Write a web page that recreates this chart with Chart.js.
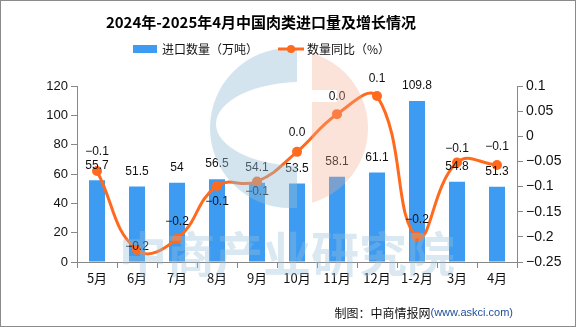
<!DOCTYPE html>
<html>
<head>
<meta charset="utf-8">
<script src="https://cdn.jsdelivr.net/npm/chart.js@4.4.1/dist/chart.umd.min.js"></script>
<style>
  html, body { margin: 0; padding: 0; background: #fff; }
  canvas { display: block; }
</style>
</head>
<body>
<canvas id="meatChart" width="576" height="327"></canvas>
<script>
// 月份
const months = ["5月", "6月", "7月", "8月", "9月", "10月", "11月", "12月", "1-2月", "3月", "4月"];
// 进口数量（万吨）
const importVolume = [55.7, 51.5, 54, 56.5, 54.1, 53.5, 58.1, 61.1, 109.8, 54.8, 51.3];
// 数量同比（%）
const volumeYoY = [-0.069, -0.226, -0.204, -0.099, -0.09, -0.031, 0.044, 0.08, -0.2, -0.052, -0.057];
// 同比标签的上下偏移（像素，负数在点上方）
const yoyLabelShift = [-19, -3, -17, 16, 10, -19, -17, -17, -17, -14, -18];

const BAR_COLOR = "#3D9CF2";
const LINE_COLOR = "#FF6A1E";
const NUM_FONT = "12px 'Liberation Sans', sans-serif";
const CJK = "'Noto Sans CJK SC', sans-serif";

function fmtRate(v) {
  let s = v.toFixed(1);
  if (s === "-0.0") s = "0.0";
  return s.replace("-", "−");
}

// 数值标签
const valueLabels = {
  id: "valueLabels",
  afterDatasetsDraw(chart) {
    const ctx = chart.ctx;
    ctx.save();
    ctx.font = NUM_FONT;
    ctx.fillStyle = "#111";
    ctx.textAlign = "center";
    ctx.textBaseline = "middle";
    chart.getDatasetMeta(1).data.forEach((bar, i) => {
      ctx.fillText(String(importVolume[i]), bar.x, bar.y - 15);
    });
    chart.getDatasetMeta(0).data.forEach((pt, i) => {
      ctx.fillText(fmtRate(volumeYoY[i]), pt.x, pt.y + yoyLabelShift[i]);
    });
    ctx.restore();
  }
};

// 水印、标题、图例、来源
const decorations = {
  id: "decorations",
  afterDraw(chart) {
    const ctx = chart.ctx;
    ctx.save();

    // logo
    const cx = 290, cy = 128, r = 80;
    ctx.save();
    ctx.beginPath();
    ctx.rect(0, 0, 297, 327);
    ctx.clip();
    ctx.beginPath();
    ctx.arc(cx, cy, r, 0, Math.PI * 2);
    ctx.ellipse(302, 124, 86, 42, 0, 0, Math.PI * 2, true);
    ctx.fillStyle = "rgba(150,190,215,0.42)";
    ctx.fill("evenodd");
    ctx.restore();

    ctx.save();
    ctx.beginPath();
    ctx.rect(312, 0, 100, 90);
    ctx.rect(312, 102, 100, 200);
    ctx.rect(337, 90, 80, 12);
    ctx.clip();
    ctx.beginPath();
    ctx.arc(cx, cy, r - 2, 0, Math.PI * 2);
    ctx.fillStyle = "rgba(242,170,140,0.33)";
    ctx.fill();
    ctx.restore();

    ctx.font = "bold 48px " + CJK;
    ctx.fillStyle = "rgba(150,190,215,0.36)";
    ctx.textAlign = "center";
    ctx.textBaseline = "middle";
    ctx.fillText("中商产业研究院", 287, 254);

    // 标题
    ctx.fillStyle = "#000";
    ctx.font = "bold 15px " + CJK;
    ctx.fillText("2024年-2025年4月中国肉类进口量及增长情况", 261, 22);

    // 图例
    ctx.font = "12px " + CJK;
    ctx.textAlign = "left";
    ctx.fillStyle = BAR_COLOR;
    ctx.fillRect(133, 45, 24, 8);
    ctx.fillStyle = "#111";
    ctx.fillText("进口数量（万吨）", 162, 49);

    ctx.strokeStyle = LINE_COLOR;
    ctx.lineWidth = 3;
    ctx.beginPath();
    ctx.moveTo(278, 49);
    ctx.lineTo(304, 49);
    ctx.stroke();
    ctx.fillStyle = LINE_COLOR;
    ctx.beginPath();
    ctx.arc(291, 49, 4, 0, Math.PI * 2);
    ctx.fill();
    ctx.fillStyle = "#111";
    ctx.fillText("数量同比（%）", 307, 49);

    // 来源
    ctx.textAlign = "right";
    ctx.font = "11px 'Liberation Sans', sans-serif";
    ctx.fillStyle = "#1F4E9A";
    const src = "(www.askci.com)";
    ctx.fillText(src, 513, 313);
    const w = ctx.measureText(src).width;
    ctx.font = "12px " + CJK;
    ctx.fillStyle = "#111";
    ctx.fillText("制图：中商情报网", 513 - w, 313);

    // 外框
    ctx.strokeStyle = "#8a8a8a";
    ctx.lineWidth = 1;
    ctx.strokeRect(0.5, 0.5, 575, 326);
    ctx.restore();
  }
};

Chart.defaults.font.family = "'Liberation Sans', 'Noto Sans CJK SC', sans-serif";
Chart.defaults.color = "#111";

new Chart(document.getElementById("meatChart"), {
  type: "bar",
  data: {
    labels: months,
    datasets: [
      {
        type: "line",
        label: "数量同比（%）",
        data: volumeYoY,
        yAxisID: "y1",
        borderColor: LINE_COLOR,
        backgroundColor: LINE_COLOR,
        borderWidth: 3,
        pointRadius: 5,
        pointBorderWidth: 0,
        tension: 0.45,
        order: 0
      },
      {
        type: "bar",
        label: "进口数量（万吨）",
        data: importVolume,
        yAxisID: "y",
        backgroundColor: BAR_COLOR,
        barPercentage: 0.4,
        categoryPercentage: 1,
        order: 1
      }
    ]
  },
  options: {
    responsive: false,
    maintainAspectRatio: false,
    animation: false,
    layout: { padding: { top: 86, left: 0, right: 0, bottom: 0 } },
    plugins: {
      legend: { display: false },
      title: { display: false },
      tooltip: { enabled: false }
    },
    scales: {
      x: {
        grid: { offset: true, drawOnChartArea: false, tickLength: 6, color: "#888" },
        border: { color: "#888" },
        ticks: { font: { size: 13, family: CJK }, color: "#111", padding: 2 },
        afterFit(scale) { scale.height = 65; }
      },
      y: {
        position: "left",
        min: 0,
        max: 120,
        ticks: { stepSize: 20, font: { size: 13 }, color: "#111", padding: 3 },
        grid: { drawOnChartArea: false, tickLength: 6, color: "#888" },
        border: { color: "#888" },
        afterFit(scale) { scale.width = 77; }
      },
      y1: {
        position: "right",
        min: -0.25,
        max: 0.1,
        ticks: {
          stepSize: 0.05,
          font: { size: 14 },
          color: "#111",
          padding: 3,
          callback: (v) => String(Math.round(v * 100) / 100).replace("-", "−")
        },
        grid: { drawOnChartArea: false, tickLength: 6, color: "#888" },
        border: { color: "#888" },
        afterFit(scale) { scale.width = 59; }
      }
    }
  },
  plugins: [valueLabels, decorations]
});
</script>
</body>
</html>
